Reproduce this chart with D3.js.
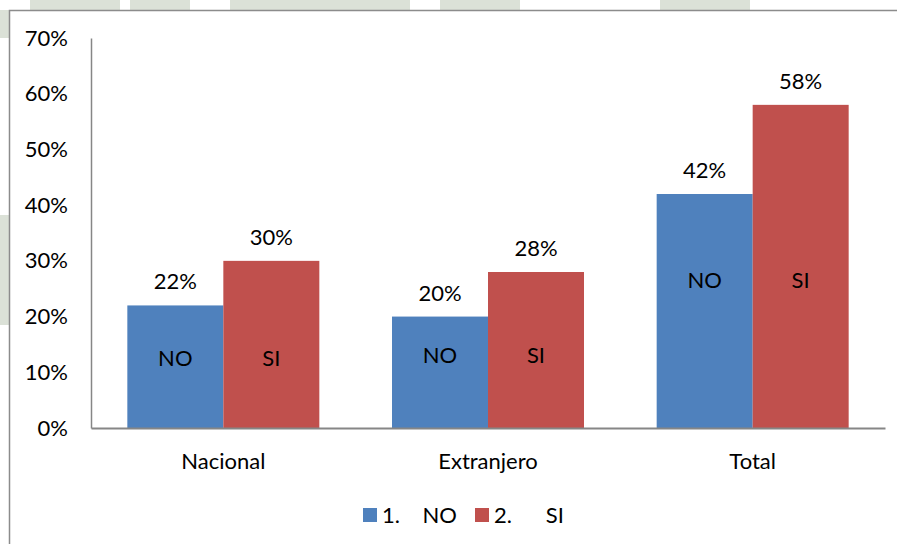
<!DOCTYPE html>
<html>
<head>
<meta charset="utf-8">
<script src="https://cdn.jsdelivr.net/npm/d3@7"></script>
<style>
  body { margin: 0; background: #fff; }
  svg { display: block; font-family: Lato, "Open Sans", sans-serif; }
</style>
</head>
<body>
<svg id="chart" width="897" height="544"></svg>
<script>
const categories = ['Nacional', 'Extranjero', 'Total'];
const seriesNames = ['1.    NO', '2.      SI'];
const shortNames = ['NO', 'SI'];
const noValues = [0.22, 0.20, 0.42];
const siValues = [0.30, 0.28, 0.58];
// where the NO / SI text sits inside each group of bars (in axis units)
const innerLabelLevel = [0.125, 0.13, 0.265];
const yTicks = [0, 0.1, 0.2, 0.3, 0.4, 0.5, 0.6, 0.7];
const colors = ['#4f81bd', '#c0504d'];
const fontSize = 22;

const svg = d3.select('#chart');

// faded watermark outside the chart frame
const wm = svg.append('g').attr('fill', '#dbe1d7');
[[30, 0, 50, 10], [35, 0, 85, 10], [130, 0, 60, 10], [230, 0, 100, 10], [320, 0, 90, 10],
 [440, 0, 80, 10], [660, 0, 50, 10], [710, 0, 40, 10], [0, 10, 9, 28], [0, 215, 9, 110]]
  .forEach(r => wm.append('rect').attr('x', r[0]).attr('y', r[1]).attr('width', r[2]).attr('height', r[3]));

svg.append('rect')
  .attr('x', 9.5).attr('y', 10.5)
  .attr('width', 900).attr('height', 560)
  .attr('fill', '#fff')
  .attr('stroke', '#8c8c8c')
  .attr('stroke-width', 1.5);

const plot = { left: 91, right: 885, top: 38, bottom: 428 };

const x = d3.scaleBand().domain(categories).range([plot.left, plot.right]);
const inner = d3.scaleBand().domain(shortNames).range([0, 192]);
const y = d3.scaleLinear().domain([0, 0.7]).range([plot.bottom, plot.top]);

const rows = categories.map((c, i) => ({ cat: c, i, vals: [noValues[i], siValues[i]] }));

const groups = svg.append('g').selectAll('g')
  .data(rows).join('g')
  .attr('transform', d => `translate(${x(d.cat) + (x.bandwidth() - 192) / 2},0)`);

groups.selectAll('rect')
  .data(d => d.vals.map((v, k) => ({ v, k, i: d.i })))
  .join('rect')
  .attr('x', d => inner(shortNames[d.k]))
  .attr('width', inner.bandwidth())
  .attr('y', d => y(d.v))
  .attr('height', d => y(0) - y(d.v))
  .attr('fill', d => colors[d.k]);

groups.selectAll('text.val')
  .data(d => d.vals.map((v, k) => ({ v, k, i: d.i })))
  .join('text')
  .attr('class', 'val')
  .attr('x', d => inner(shortNames[d.k]) + inner.bandwidth() / 2)
  .attr('y', d => y(d.v) - 16)
  .attr('text-anchor', 'middle')
  .attr('font-size', fontSize)
  .attr('fill', '#000')
  .text(d => d3.format('.0%')(d.v));

groups.selectAll('text.inner')
  .data(d => d.vals.map((v, k) => ({ v, k, i: d.i })))
  .join('text')
  .attr('class', 'inner')
  .attr('x', d => inner(shortNames[d.k]) + inner.bandwidth() / 2)
  .attr('y', d => y(innerLabelLevel[d.i]))
  .attr('dy', '0.35em')
  .attr('text-anchor', 'middle')
  .attr('font-size', fontSize)
  .attr('fill', '#000')
  .text(d => shortNames[d.k]);

// y axis
const yAxis = svg.append('g')
  .attr('transform', `translate(${plot.left},0)`)
  .call(d3.axisLeft(y).tickValues(yTicks).tickFormat(d3.format('.0%')).tickSize(0).tickPadding(23));
yAxis.select('.domain').attr('stroke', '#868686').attr('stroke-width', 1.5);
yAxis.selectAll('text').attr('font-size', fontSize).attr('fill', '#000').attr('font-family', 'Lato, sans-serif');

// x axis
const xAxis = svg.append('g')
  .attr('transform', `translate(0,${plot.bottom})`)
  .call(d3.axisBottom(x).tickSize(0).tickPadding(25));
xAxis.select('.domain').attr('stroke', '#868686').attr('stroke-width', 2);
xAxis.selectAll('text').attr('font-size', fontSize).attr('fill', '#000').attr('font-family', 'Lato, sans-serif');

// legend
const legend = svg.append('g').attr('transform', 'translate(363,515)');
const legendX = [0, 112];
seriesNames.forEach((name, k) => {
  const g = legend.append('g').attr('transform', `translate(${legendX[k]},0)`);
  g.append('rect').attr('x', 0).attr('y', -7).attr('width', 14).attr('height', 14).attr('fill', colors[k]);
  g.append('text').attr('x', 19).attr('dy', '0.35em')
    .attr('font-size', fontSize).attr('fill', '#000')
    .attr('xml:space', 'preserve').style('white-space', 'pre')
    .text(name);
});
</script>
</body>
</html>
